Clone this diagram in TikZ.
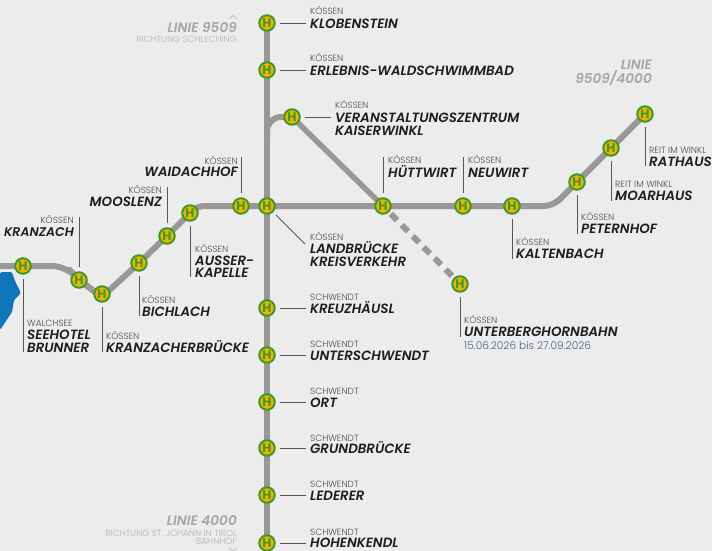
\documentclass[tikz,border=0pt]{standalone}
\usepackage{fontspec}
\setmainfont{Poppins}
\newfontfamily\lightf{Poppins Light}
\newfontfamily\semif{Poppins SemiBold Italic}
\usetikzlibrary{backgrounds}
\definecolor{bgc}{HTML}{ECECEC}
\definecolor{trk}{HTML}{999896}
\definecolor{lead}{HTML}{555555}
\definecolor{ink}{HTML}{1E1E1E}
\definecolor{smallc}{HTML}{4A4A4A}
\definecolor{linec}{HTML}{A6A6A6}
\definecolor{linec2}{HTML}{B4B4B4}
\definecolor{stopf}{HTML}{F0B400}
\definecolor{stopd}{HTML}{3C9A2C}
\definecolor{dateblue}{HTML}{48607E}
\definecolor{lake}{HTML}{0F74B8}
\tikzset{
 x=1pt,y=-1pt,
 stopn/.style={circle,draw=stopd,line width=2pt,fill=stopf,inner sep=0pt,minimum size=15.5pt,text=stopd,font=\bfseries\fontsize{12.5}{12.5}\selectfont},
 track/.style={draw=trk,line width=6pt,line join=round},
 lead/.style={draw=lead,line width=.9pt,shorten <=4pt},
 big/.style={inner sep=0pt,anchor=base west,text=ink,font=\semif\fontsize{13.4}{13.4}\selectfont},
 bigr/.style={big,anchor=base east},
 small/.style={inner sep=0pt,anchor=base west,text=smallc,font=\lightf\fontsize{9}{9}\selectfont},
 smallr/.style={small,anchor=base east},
 linelab/.style={inner sep=0pt,anchor=base east,text=linec,font=\semif\fontsize{13.6}{13.6}\selectfont},
 linesub/.style={inner sep=0pt,anchor=base east,text=linec2,font=\lightf\fontsize{8.9}{8.9}\selectfont},
}
\newcommand{\stopat}[3]{\node[stopn] (#1) at (#2,#3) {H};}
\begin{document}
\begin{tikzpicture}
\useasboundingbox (0,0) rectangle (712,551);
\begin{scope}[on background layer]
\fill[bgc] (0,0) rectangle (712,551);
\fill[lake,rounded corners=1.5pt] (0,272) -- (12,272) -- (15,281) -- (21,293) -- (14,300) -- (12,312) -- (0,330) -- cycle;
\end{scope}
% stops
\stopat{klo}{267}{23}
\stopat{erl}{267}{70}
\stopat{ver}{292}{117}
\stopat{wai}{241}{206}
\stopat{lan}{267}{206}
\stopat{hue}{383}{206}
\stopat{neu}{463}{206}
\stopat{kal}{512}{206}
\stopat{pet}{577}{182}
\stopat{moa}{611}{148}
\stopat{rat}{645}{114}
\stopat{unt}{460}{284}
\stopat{aus}{190}{213}
\stopat{moo}{167}{236}
\stopat{bic}{139}{263}
\stopat{krb}{102}{294}
\stopat{kra}{79}{280}
\stopat{see}{23}{266}
\stopat{kre}{267}{308}
\stopat{usw}{267}{355}
\stopat{ort}{267}{402}
\stopat{gru}{267}{448}
\stopat{led}{267}{495}
\stopat{hoh}{267}{543}
% track helper coordinates
\coordinate (w0) at (0,266);
\coordinate (w1) at (66,266);
\coordinate (w2) at (102,297);
\coordinate (w3) at (198,206);
\coordinate (e1) at (553,206);
\coordinate (b1) at (267,117);
\coordinate (b2) at (267,140);
\begin{scope}[on background layer]
\draw[track,rounded corners=14pt] (w0) -- (see.center) -- (w1) -- (kra.center) -- (w2) ;
\draw[track,rounded corners=3pt] (kra.center) -- (w2) -- (bic.center) -- (moo.center) -- (aus.center);
\draw[track,rounded corners=6pt] (aus.center) -- (w3) -- (wai.center) -- (lan.center) -- (hue.center) -- (neu.center) -- (kal.center);
\draw[track,rounded corners=9pt] (kal.center) -- (e1) -- (pet.center);
\draw[track] (pet.center) -- (moa.center) -- (rat.center);
\draw[track] (klo.center) -- (erl.center) -- (lan.center) -- (kre.center) -- (usw.center) -- (ort.center) -- (gru.center) -- (led.center) -- (hoh.center);
\draw[track,rounded corners=14pt] (b2) -- (b1) -- (ver.center);
\draw[track,line width=5.5pt] (ver.center) -- (hue.center);
\draw[track,line width=6pt,dash pattern=on 9pt off 6.6pt,dash phase=4.5pt] (hue.center) -- (unt.center);
\end{scope}
% leader ends
\foreach \n/\px/\py in {klo/306/23,erl/306/70,ver/331/117,wai/241/157,moo/167/187,kra/79/217,aus/190/277,bic/139/316,krb/102/352,see/23/352,lan/305/244,hue/383/157,neu/463/157,kal/512/259,pet/577/234,moa/611/201,rat/645/166,unt/460/337,kre/306/308,usw/306/355,ort/306/402,gru/306/448,led/306/495,hoh/306/543}{
 \coordinate (\n e) at (\px,\py);
 \draw[lead] (\n) -- (\n e);
}
% labels
\newcommand{\lab}[6]{\node[small] (#1a) at (#2,#3) {#5}; \node[big] (#1b) at (#2,#4) {#6};}
\newcommand{\labr}[6]{\node[smallr] (#1a) at (#2,#3) {#5}; \node[bigr] (#1b) at (#2,#4) {#6};}
\lab{tklo}{310}{15}{29}{KÖSSEN}{KLOBENSTEIN}
\lab{terl}{310}{62}{75}{KÖSSEN}{ERLEBNIS-WALDSCHWIMMBAD}
\lab{tver}{335}{108}{122}{KÖSSEN}{VERANSTALTUNGSZENTRUM}
\node[big] (tver2) at (335,135) {KAISERWINKL};
\labr{twai}{238}{164}{176}{KÖSSEN}{WAIDACHHOF}
\labr{tmoo}{162}{193}{206}{KÖSSEN}{MOOSLENZ}
\labr{tkra}{74}{223}{236}{KÖSSEN}{\fontsize{12.6}{12.6}\selectfont KRANZACH}
\lab{taus}{195}{252}{265}{KÖSSEN}{AUSSER-}
\node[big] (taus2) at (195,277) {KAPELLE};
\lab{tbic}{142}{303}{316}{KÖSSEN}{BICHLACH}
\lab{tkrb}{106}{339}{352}{KÖSSEN}{KRANZACHERBRÜCKE}
\lab{tsee}{27}{326}{339}{WALCHSEE}{SEEHOTEL}
\node[big] (tsee2) at (27,352) {BRUNNER};
\lab{tlan}{310}{240}{253}{KÖSSEN}{LANDBRÜCKE}
\node[big] (tlan2) at (310,266) {KREISVERKEHR};
\lab{thue}{388}{163}{177}{KÖSSEN}{HÜTTWIRT}
\lab{tneu}{468}{163}{177}{KÖSSEN}{NEUWIRT}
\lab{tkal}{516}{245}{258}{KÖSSEN}{KALTENBACH}
\lab{tpet}{581}{220}{233}{KÖSSEN}{PETERNHOF}
\lab{tmoa}{615}{187}{200}{REIT IM WINKL}{MOARHAUS}
\lab{trat}{649}{153}{166}{REIT IM WINKL}{RATHAUS}
\lab{tunt}{464}{323}{336}{KÖSSEN}{UNTERBERGHORNBAHN}
\node[small,text=dateblue,font=\lightf\fontsize{10.6}{10.6}\selectfont] (tdate) at (464,349) {15.06.2026 bis 27.09.2026};
\lab{tkre}{310}{300}{313}{SCHWENDT}{KREUZHÄUSL}
\lab{tusw}{310}{347}{360}{SCHWENDT}{UNTERSCHWENDT}
\lab{tort}{310}{394}{407}{SCHWENDT}{ORT}
\lab{tgru}{310}{441}{453}{SCHWENDT}{GRUNDBRÜCKE}
\lab{tled}{310}{487}{500}{SCHWENDT}{LEDERER}
\lab{thoh}{310}{535}{547.5}{SCHWENDT}{HOHENKENDL}
% line captions
\node[linelab] (l1) at (237,33) {LINIE 9509};
\node[linesub] (l1s) at (237,43) {RICHTUNG SCHLECHING};
\node[linelab] (l2) at (237,525) {LINIE 4000};
\node[linesub] (l2s) at (237,536) {RICHTUNG ST. JOHANN IN TIROL};
\node[linesub] (l2t) at (237,544.5) {BAHNHOF};
\node[linelab] (l3) at (652,70) {LINIE};
\node[linelab] (l4) at (652,83) {9509/4000};
\draw[linec2,line width=.6pt] (229,19) -- (233,15.5) -- (237,19);
\draw[linec2,line width=.6pt] (229,548) -- (233,551) -- (237,548);
\end{tikzpicture}
\end{document}
